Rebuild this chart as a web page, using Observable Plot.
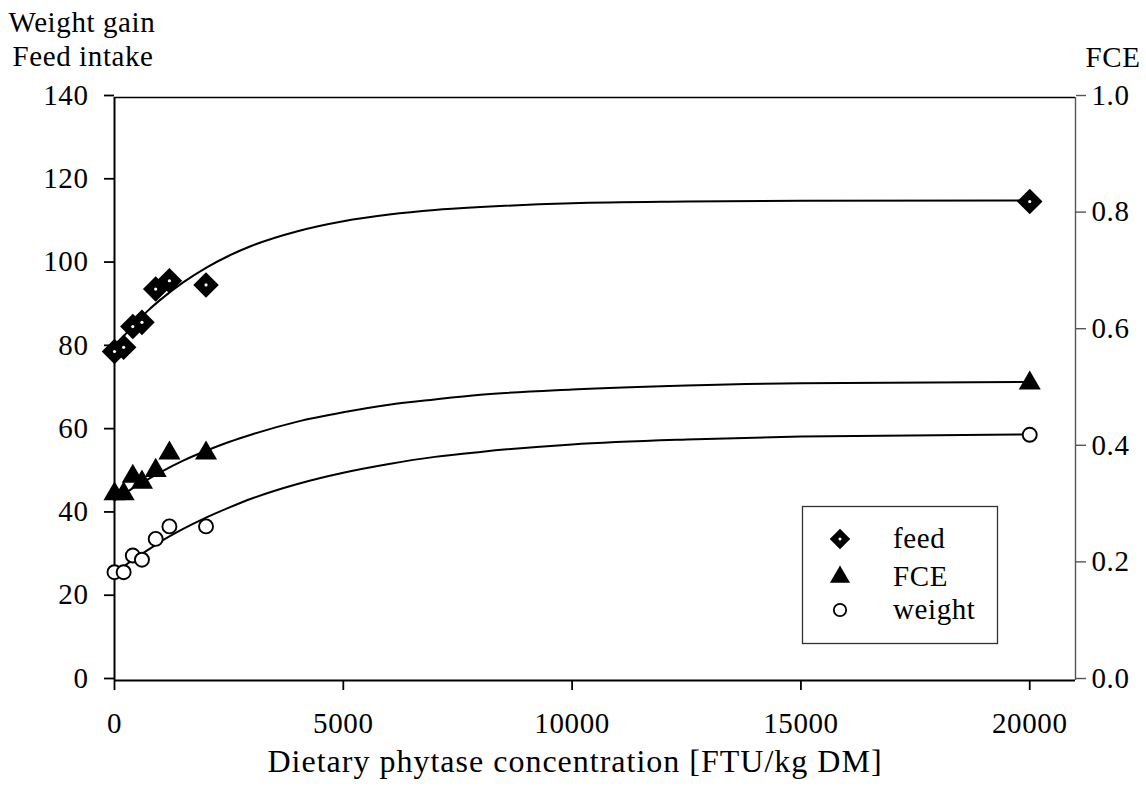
<!DOCTYPE html>
<html>
<head>
<meta charset="utf-8">
<script src="https://cdn.jsdelivr.net/npm/d3@7"></script>
<script src="https://cdn.jsdelivr.net/npm/@observablehq/plot@0.6"></script>
<style>
  html, body { margin: 0; padding: 0; background: #fff; }
  #chart { width: 1146px; height: 791px; }
  #chart svg, #chart svg text { font-family: "Liberation Serif", "DejaVu Serif", serif; }
  #chart svg text { letter-spacing: 0.6px; }
</style>
</head>
<body>
<div id="chart"></div>
<script>
// Measured responses to dietary phytase (FTU/kg DM)
const doses = [0, 200, 400, 600, 900, 1200, 2000, 20000];
const feedIntake = [79, 80, 85, 86, 94, 96, 95, 115];
const fce = [0.32, 0.32, 0.35, 0.34, 0.36, 0.39, 0.39, 0.51];
const weightGain = [26, 26, 30, 29, 34, 37, 37, 59];

// Fitted response curves, sampled along the dose axis
const curveDoses = [0, 250, 500, 750, 1000, 1500, 2000, 2500, 3000, 4000, 5000, 6000, 7000, 8000, 10000, 12500, 15000, 20000];
const feedCurve = [80.0, 83.3, 86.2, 89.0, 91.4, 95.6, 99.1, 102.0, 104.4, 107.9, 110.3, 111.9, 113.0, 113.7, 114.6, 115.0, 115.2, 115.3];
const fceCurve = [0.309, 0.322, 0.335, 0.346, 0.357, 0.377, 0.394, 0.409, 0.422, 0.444, 0.460, 0.473, 0.482, 0.490, 0.499, 0.506, 0.510, 0.512];
const weightCurve = [25.7, 27.8, 29.7, 31.5, 33.3, 36.4, 39.1, 41.5, 43.7, 47.2, 49.9, 52.0, 53.7, 54.9, 56.7, 57.9, 58.6, 59.1];

// Axis ticks and titles
const xTicks = [0, 5000, 10000, 15000, 20000];
const leftTicks = [0, 20, 40, 60, 80, 100, 120, 140];
const rightTicks = [0, 0.2, 0.4, 0.6, 0.8, 1.0];
const xTitle = "Dietary phytase concentration [FTU/kg DM]";
const leftTitle = ["Weight gain", "Feed intake"];
const rightTitle = "FCE";
const seriesNames = ["feed", "FCE", "weight"];

// FCE shares the left scale: 1.0 on the right axis sits at 140 on the left
const leftMax = 140;
const xMax = 21000;
const toLeft = v => v * leftMax;

const points = doses.map((d, i) => ({dose: d, feed: feedIntake[i], fce: fce[i], weight: weightGain[i]}));
const curves = curveDoses.map((d, i) => ({dose: d, feed: feedCurve[i], fce: fceCurve[i], weight: weightCurve[i]}));

const FONT = "'Liberation Serif', 'DejaVu Serif', serif";

const chart = Plot.plot({
  width: 1146,
  height: 791,
  marginLeft: 114,
  marginRight: 71,
  marginTop: 97,
  marginBottom: 111,
  style: {fontFamily: FONT, fontSize: "29px", color: "#000", background: "#fff", overflow: "visible"},
  x: {domain: [0, xMax]},
  y: {domain: [0, leftMax]},
  marks: [
    // plot box: heavy left, bottom and top edges, lighter right (FCE) axis
    Plot.ruleY([leftMax], {stroke: "#000", strokeWidth: 1.6}),
    Plot.ruleX([xMax], {stroke: "#555", strokeWidth: 1.4}),
    Plot.axisX({ticks: xTicks, tickSize: 10, tickPadding: 22, tickFormat: d3.format("d"), label: null, strokeWidth: 1.8}),
    Plot.axisY({ticks: leftTicks, tickSize: 10, tickPadding: 16, label: null, strokeWidth: 1.8, dy: -2}),
    Plot.axisY({anchor: "right", ticks: rightTicks.map(toLeft), tickSize: 10, tickPadding: 6, label: null,
      tickFormat: v => d3.format(".1f")(v / leftMax), stroke: "#555", strokeWidth: 1.4, dy: -2}),
    Plot.ruleX([0], {stroke: "#000", strokeWidth: 2}),
    Plot.ruleY([0], {stroke: "#000", strokeWidth: 2}),

    // axis titles
    Plot.text([leftTitle[0]], {text: d => d, frameAnchor: "top-left", textAnchor: "start", dx: -106, dy: -86}),
    Plot.text([leftTitle[1]], {text: d => d, frameAnchor: "top-left", textAnchor: "start", dx: -102, dy: -52}),
    Plot.text([rightTitle], {text: d => d, frameAnchor: "top-right", textAnchor: "start", dx: 10, dy: -51}),
    Plot.text([xTitle], {text: d => d, frameAnchor: "bottom", dx: -20, dy: 91}),

    // fitted curves
    Plot.line(curves, {x: "dose", y: "feed", stroke: "#000", strokeWidth: 2, curve: "monotone-x"}),
    Plot.line(curves, {x: "dose", y: d => toLeft(d.fce), stroke: "#000", strokeWidth: 2, curve: "monotone-x"}),
    Plot.line(curves, {x: "dose", y: "weight", stroke: "#000", strokeWidth: 2, curve: "monotone-x"}),

    // observations
    Plot.dot(points, {x: "dose", y: "weight", r: 7, fill: "#fff", stroke: "#000", strokeWidth: 1.9}),
    Plot.dot(points, {x: "dose", y: d => toLeft(d.fce), symbol: "triangle", r: 8.2, fill: "#000", stroke: "none"}),
    Plot.dot(points, {x: "dose", y: "feed", symbol: "diamond2", r: 11.5, fill: "#000", stroke: "none"}),
    Plot.dot(points, {x: "dose", y: "feed", r: 1.6, fill: "#fff", stroke: "none"})
  ]
});

const svg = d3.select(chart);

// the long x title is set in a larger size
svg.selectAll("text").filter(function() { return this.textContent === xTitle; })
  .style("font-size", "32px").style("letter-spacing", "1px");

// Legend box in the lower right of the plotting area
const legend = svg.append("g").attr("font-family", FONT).attr("font-size", "29px").attr("text-anchor", "start");
legend.append("rect")
  .attr("x", 802.5).attr("y", 506.5).attr("width", 195).attr("height", 137)
  .attr("fill", "#fff").attr("stroke", "#333").attr("stroke-width", 1.3);
const legendSymbols = [
  {sym: d3.symbolDiamond2, size: 270, fill: "#000", stroke: "none", cy: 539, dot: true},
  {sym: d3.symbolTriangle, size: 175, fill: "#000", stroke: "none", cy: 577},
  {sym: d3.symbolCircle, size: 120, fill: "#fff", stroke: "#000", cy: 610}
];
legendSymbols.forEach((e, i) => {
  legend.append("path")
    .attr("transform", `translate(840,${e.cy})`)
    .attr("d", d3.symbol(e.sym, e.size)())
    .attr("fill", e.fill).attr("stroke", e.stroke).attr("stroke-width", 1.8);
  if (e.dot) legend.append("circle").attr("cx", 840).attr("cy", e.cy).attr("r", 1.5).attr("fill", "#fff");
  legend.append("text").attr("x", 893).attr("y", e.cy + 9).text(seriesNames[i]);
});

document.getElementById("chart").appendChild(chart);
</script>
</body>
</html>
